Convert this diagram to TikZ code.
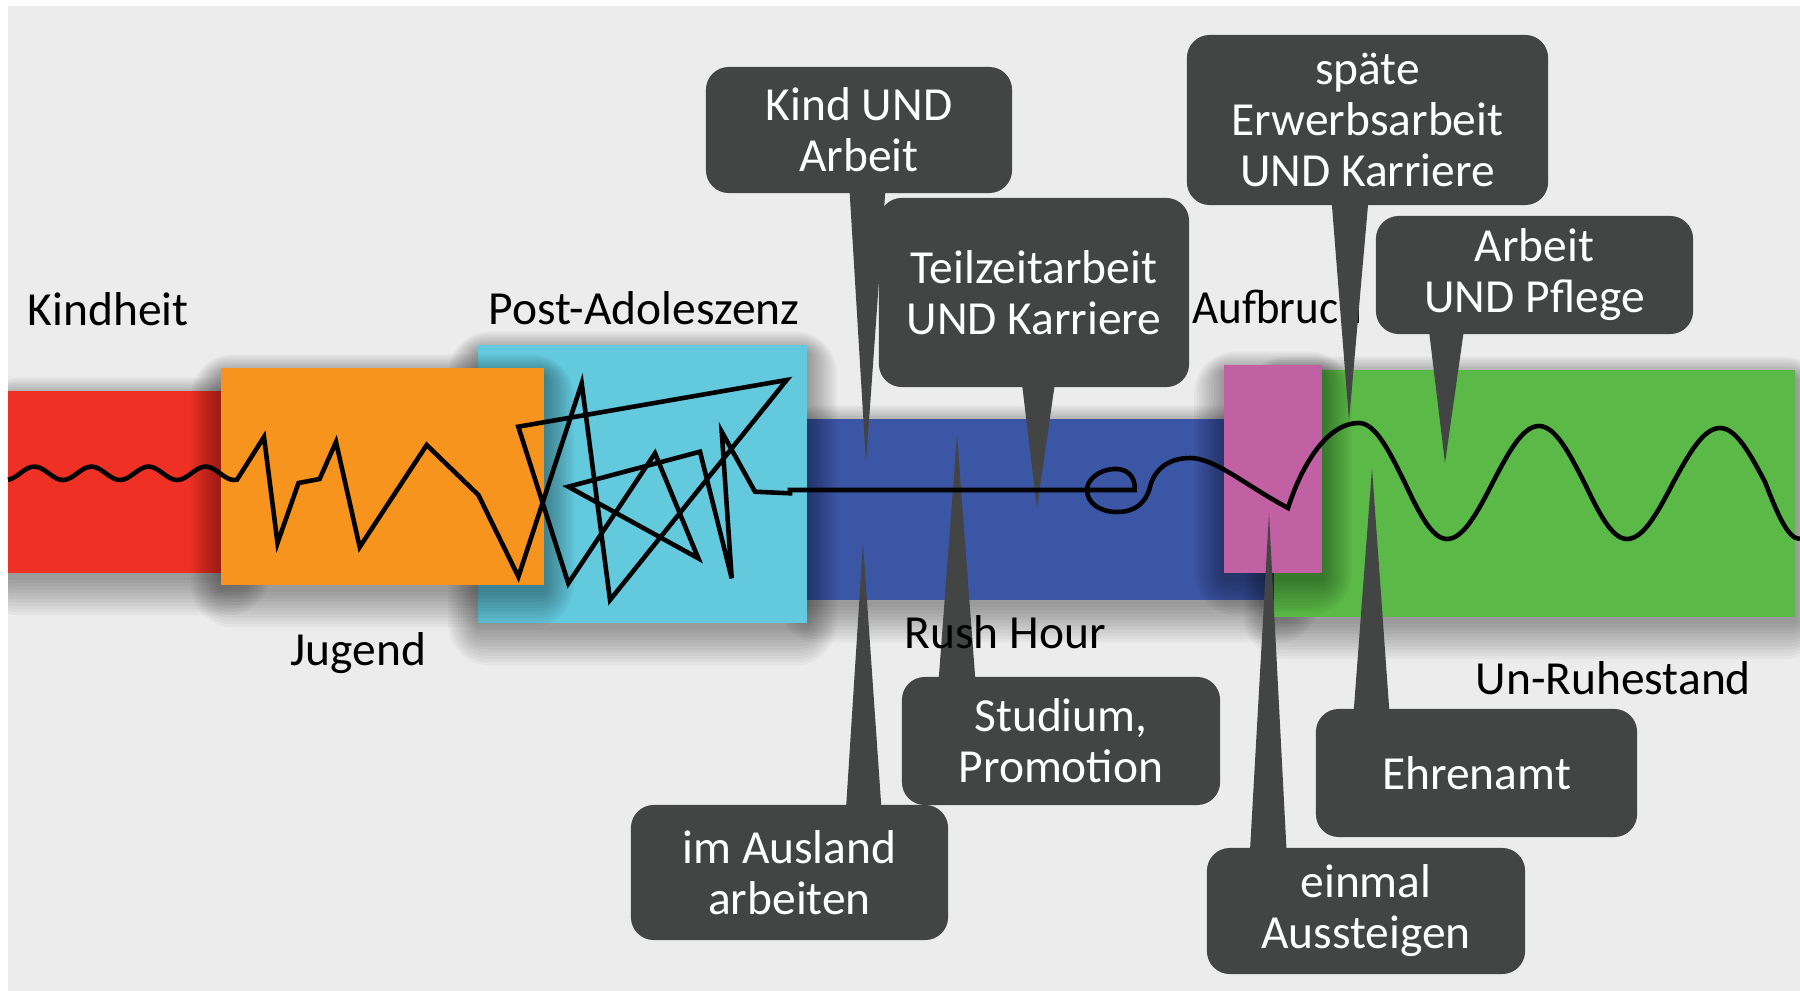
\documentclass[tikz,border=0pt]{standalone}
\usepackage{fontspec}
\setmainfont{Carlito}
\usetikzlibrary{calc}
\definecolor{bggray}{HTML}{ECECEC}
\definecolor{cred}{HTML}{EE3124}
\definecolor{corange}{HTML}{F7941E}
\definecolor{ccyan}{HTML}{63C9DD}
\definecolor{cblue}{HTML}{3C56A6}
\definecolor{cgreen}{HTML}{5AB947}
\definecolor{cpink}{HTML}{C160A2}
\definecolor{cgray}{HTML}{434545}
\newcommand\phshadow[4]{%
  \foreach \k in {1,...,12}{%
    \fill[black, fill opacity=0.03, rounded corners=\k pt] ({#1-2.5*\k},{#2-1.8*\k+8}) rectangle ({#3+2.5*\k},{#4+3.2*\k+4});
  }}
\begin{document}
\begin{tikzpicture}[x=0.01cm,y=-0.01cm,
  lbl/.style={anchor=base west, inner sep=0pt, font=\fontsize{13.5}{14.3}\selectfont, text=black},
  callout/.style={fill=cgray, rounded corners=6.5pt, text=white, align=center, inner sep=0pt, font=\fontsize{13.5}{14.5}\selectfont},
  pointer/.style={fill=cgray},
  life/.style={draw=black, line width=1.3pt}
]
\useasboundingbox (0,0) rectangle (1800,991);
\fill[white] (0,0) rectangle (1800,991);
\fill[bggray] (8,6) rectangle (1800,991);

\begin{scope}
\clip (8,6) rectangle (1800,991);
% life phases
\phshadow{8}{391}{240}{573}
\fill[cred] (8,391) rectangle (240,573);
\phshadow{807}{419}{1290}{600}
\fill[cblue] (807,419) rectangle (1290,600);
\phshadow{478}{345}{807}{623}
\fill[ccyan] (478,345) rectangle (807,623);
\phshadow{221}{368}{544}{585}
\fill[corange] (221,368) rectangle (544,585);
\phshadow{1274}{370}{1795}{617}
\fill[cgreen] (1274,370) rectangle (1795,617);
\phshadow{1224}{365}{1322}{573}
\fill[cpink] (1224,365) rectangle (1322,573);
\end{scope}

% label partly covered by a callout
\node[lbl] (lauf) at (1192,323) {\scalebox{0.95}[1]{Aufbruch}};

% callouts
\node[callout, minimum width=3.06cm, minimum height=1.26cm] (k1) at (859,130) {Kind UND\\Arbeit};
\node[callout, minimum width=3.10cm, minimum height=1.89cm] (k2) at (1034,292.5) {Teilzeitarbeit\\UND Karriere};
\node[callout, minimum width=3.61cm, minimum height=1.70cm] (k3) at (1367.5,120) {späte\\Erwerbsarbeit\\UND Karriere};
\node[callout, minimum width=3.17cm, minimum height=1.18cm] (k4) at (1534.5,275) {Arbeit\\UND Pflege};
\node[callout, minimum width=3.18cm, minimum height=1.28cm] (k5) at (1061,741) {Studium,\\Promotion};
\node[callout, minimum width=3.17cm, minimum height=1.35cm] (k6) at (789.5,872.5) {im Ausland\\arbeiten};
\node[callout, minimum width=3.21cm, minimum height=1.28cm] (k7) at (1476.5,773) {Ehrenamt};
\node[callout, minimum width=3.18cm, minimum height=1.26cm] (k8) at (1366,911) {einmal\\Aussteigen};

\coordinate (t1) at (866,463);
\coordinate (t2) at (1037,508);
\coordinate (t3) at (1349,421);
\coordinate (t4) at (1445,463);
\coordinate (t5) at (957,435);
\coordinate (t6) at (863,543);
\coordinate (t7) at (1372,468);
\coordinate (t8) at (1269,513);

\fill[pointer] ($(k1.south)+(-10,-12)$) -- (t1) -- ($(k1.south)+(27,-12)$) -- cycle;
\fill[pointer] ($(k2.south)+(-13,-12)$) -- (t2) -- ($(k2.south)+(22,-12)$) -- cycle;
\fill[pointer] ($(k3.south)+(-36.5,-12)$) -- (t3) -- ($(k3.south)+(1.5,-12)$) -- cycle;
\fill[pointer] ($(k4.south)+(-106.5,-12)$) -- (t4) -- ($(k4.south)+(-69.5,-12)$) -- cycle;
\fill[pointer] ($(k5.north)+(-123,12)$) -- (t5) -- ($(k5.north)+(-85,12)$) -- cycle;
\fill[pointer] ($(k6.north)+(56,12)$) -- (t6) -- ($(k6.north)+(92.5,12)$) -- cycle;
\fill[pointer] ($(k7.north)+(-123.5,12)$) -- (t7) -- ($(k7.north)+(-86.5,12)$) -- cycle;
\fill[pointer] ($(k8.north)+(-116.5,12)$) -- (t8) -- ($(k8.north)+(-79,12)$) -- cycle;

% phase labels
\node[lbl] (lkind) at (27,325) {Kindheit};
\node[lbl] (lpost) at (488,324) {Post-Adoleszenz};
\node[lbl] (ljug) at (290,665) {Jugend};
\node[lbl] (lrush) at (904,648) {Rush Hour};
\node[lbl] (lun) at (1475,694) {Un-Ruhestand};

% life line
\draw[life] plot[domain=8:237, samples=80, smooth] (\x, {473.3-6.7*cos(6.3047*(\x-34.4))})
 -- (264,437) -- (277.5,543) -- (298.5,483) -- (319.6,479) -- (336,442) -- (359.7,547)
 -- (426.7,445) -- (478.4,495) -- (518.4,576.7) -- (581.7,383.3) -- (610,600)
 -- (786.7,380) -- (518.3,426.7) -- (568.3,583.3) -- (655,453.3) -- (698.3,558.3)
 -- (568.3,486.7) -- (700,451.7) -- (731.7,578.3) -- (721.7,431.7) -- (755,491.7)
 -- (790,493.3) -- (790,490) -- (1134.6,490)
 .. controls (1136,475) and (1125,468) .. (1113.6,469)
 .. controls (1098,470) and (1087,480) .. (1087,490)
 .. controls (1087,503) and (1100,512) .. (1117,512)
 .. controls (1135,512) and (1146,503) .. (1150,487)
 .. controls (1154,470) and (1168,458) .. (1190,458)
 .. controls (1215,458) and (1245,485) .. (1288,508)
 .. controls (1300,470) and (1325,423) .. (1359,423)
 cos (1404,481) sin (1447,539) cos (1493,482) sin (1539,426) cos (1584,482) sin (1627,539)
 cos (1673,483) sin (1720,428) cos (1765,482) sin (1800,539);
\end{tikzpicture}
\end{document}
